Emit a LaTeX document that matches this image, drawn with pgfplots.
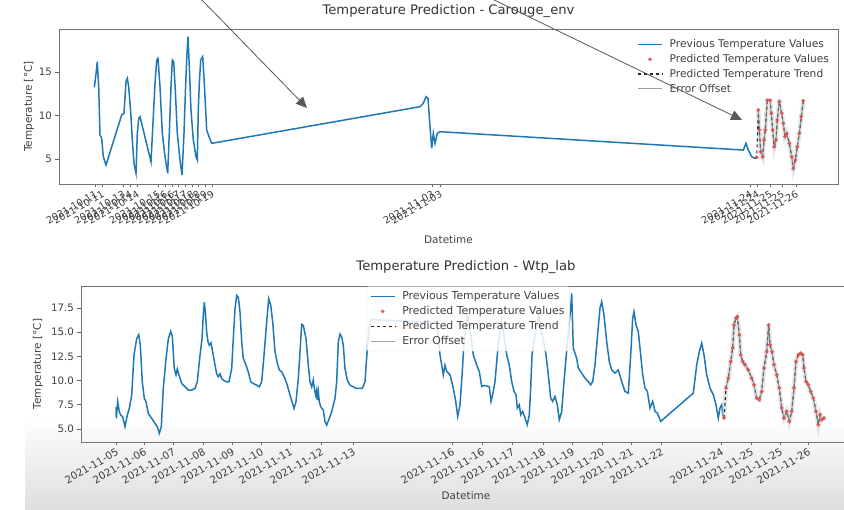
\documentclass[border=0pt]{standalone}
\usepackage{fontspec}
\setmainfont{DejaVu Sans}
\usepackage{pgfplots}
\pgfplotsset{compat=1.18}
\usetikzlibrary{arrows.meta}
\definecolor{mplblue}{HTML}{1F77B4}
\definecolor{mplred}{HTML}{D62728}
\pgfplotsset{
 mystyle/.style={
  scale only axis, anchor=south west,
  axis line style={black!55, line width=0.9bp},
  tick style={black!60, line width=0.8bp},
  tick align=outside, major tick length=3.5bp,
  xtick pos=bottom, ytick pos=left,
  /pgf/number format/assume math mode=true,
  tick label style={font=\fontsize{10.3}{11}\selectfont, text=black!75},
  label style={font=\fontsize{10.5}{12}\selectfont, text=black!75},
  title style={font=\fontsize{13.2}{14}\selectfont, text=black!80, anchor=center},
  xticklabel style={rotate=30, anchor=north east, inner sep=1.5bp},
  legend cell align=left,
  legend style={text=black!75, fill=white, fill opacity=0.85, text opacity=1, draw=black!12, rounded corners=2bp, row sep=1.2bp, inner sep=3bp, /tikz/every odd column/.append style={column sep=5bp}},
 },
 prev/.style={mplblue, line width=1.5bp},
 band/.style={gray!45, line width=4.5bp, opacity=0.45, forget plot},
 predpts/.style={only marks, mark=*, mark size=1.6bp, mark options={draw=mplred!85, fill=mplred!75}},
 trend/.style={black!85, dashed, line width=1.1bp},
 err/.style={gray, line width=1bp, opacity=0.75},
}
\begin{document}
\begin{tikzpicture}
\clip (0,0) rectangle (844bp,510bp);
\fill[white] (0,0) rectangle (844bp,510bp);
\shade[top color=white, bottom color=black!13] (25bp,0) rectangle (844bp,95bp);

% ---------------- top axis ----------------
\begin{axis}[mystyle, at={(59bp,326bp)}, width=779bp, height=155bp,
  xmin=59, xmax=838, ymin=2.13, ymax=19.94, ytick={5,10,15},
  xtick={95,102,123,130,137,158,165,172,178,185,192,198,205,212,432,440,750,757,770,782,796},
  xticklabels={2021-10-11,2021-10-11,2021-10-13,2021-10-14,2021-10-14,2021-10-15,2021-10-16,2021-10-16,2021-10-17,2021-10-17,2021-10-18,2021-10-18,2021-10-19,2021-10-19,2021-11-03,2021-11-03,2021-11-24,2021-11-24,2021-11-25,2021-11-25,2021-11-26},
  xticklabel style={font=\fontsize{9.8}{11}\selectfont},
  title={Temperature Prediction - Carouge\_env},
  title style={at={(axis description cs:0.5,1.077)}},
  xlabel={Datetime}, xlabel style={at={(axis description cs:0.5,-0.361)}, anchor=center},
  ylabel={Temperature [°C]}, ylabel style={at={(axis description cs:-0.0385,0.5)}, anchor=center},
  legend style={at={(0.995,0.965)}, anchor=north east, draw=none, font=\fontsize{10.7}{12.5}\selectfont},
  legend image code/.code={\draw[mark repeat=2,mark phase=2,#1] plot coordinates {(0bp,0bp) (12bp,0bp) (24bp,0bp)};},
]
\addplot[prev] coordinates {(94.3,13.24)(95.7,14.46)(97.3,16.19)(98.7,13.31)(100,7.76)(101.7,7.38)(103.3,5.27)(106,4.31)(121.7,10.06)(124,10.25)(126,13.89)(127.3,14.27)(128.7,13.31)(131,9.86)(132.3,7.18)(134,4.50)(136,3.35)(137.3,7.95)(138.7,9.67)(140,9.86)(151,4.69)(153.3,9.86)(155,13.70)(156.7,16.38)(158,16.57)(160,13.31)(162.3,7.95)(165,5.27)(167.7,3.35)(169.3,7.95)(171,13.31)(172.3,16.38)(173.7,16.19)(175.3,12.93)(177.3,7.95)(180,4.89)(182,3.16)(184,7.95)(185.7,13.70)(187,17.15)(188,19.06)(189.3,15.61)(191,10.63)(193.3,7.18)(196,5.27)(197.3,4.89)(198.3,10.63)(199.3,13.70)(200.7,16.38)(202.7,16.76)(204.3,13.70)(206.7,8.33)(209,7.56)(211.7,6.80)(420,11.01)(423.3,11.40)(426,12.16)(428,11.97)(430,8.71)(431.7,6.23)(433.3,7.95)(435,6.80)(437.3,7.95)(440,8.14)(743.3,6.03)(746,6.80)(748.3,6.03)(751.7,5.27)(755,5.08)};
\addlegendentry{Previous Temperature Values}
\addplot[band] coordinates {(758.3,10.63)(759.3,8.33)(760.7,5.84)(762.7,5.26)(764,7.18)(765.3,8.33)(767.3,11.78)(770,11.78)(771.3,10.25)(772.7,8.33)(774.3,6.41)(776,7.18)(777.3,9.48)(779.3,11.59)(781.7,10.25)(783.3,9.10)(785,7.56)(786.7,7.95)(789.3,6.80)(791.7,5.26)(793.3,3.93)(795.3,4.89)(797.3,6.41)(799.3,7.95)(801.3,9.86)(803.3,11.70)};
\addplot[predpts] coordinates {(756.7,5.20)(758.3,10.63)(759.3,8.33)(760.7,5.84)(762.7,5.26)(764,7.18)(765.3,8.33)(767.3,11.78)(770,11.78)(771.3,10.25)(772.7,8.33)(774.3,6.41)(776,7.18)(777.3,9.48)(779.3,11.59)(781.7,10.25)(783.3,9.10)(785,7.56)(786.7,7.95)(789.3,6.80)(791.7,5.26)(793.3,3.93)(795.3,4.89)(797.3,6.41)(799.3,7.95)(801.3,9.86)(803.3,11.70)};
\addlegendentry{Predicted Temperature Values}
\addplot[trend] coordinates {(755,5.08)(756.7,5.20)(758.3,10.63)(759.3,8.33)(760.7,5.84)(762.7,5.26)(764,7.18)(765.3,8.33)(767.3,11.78)(770,11.78)(771.3,10.25)(772.7,8.33)(774.3,6.41)(776,7.18)(777.3,9.48)(779.3,11.59)(781.7,10.25)(783.3,9.10)(785,7.56)(786.7,7.95)(789.3,6.80)(791.7,5.26)(793.3,3.93)(795.3,4.89)(797.3,6.41)(799.3,7.95)(801.3,9.86)(803.3,11.70)};
\addlegendentry{Predicted Temperature Trend}
\addplot[err] coordinates {(758.3,10.63)(759.3,8.33)(760.7,5.84)(762.7,5.26)(764,7.18)(765.3,8.33)(767.3,11.78)(770,11.78)(771.3,10.25)(772.7,8.33)(774.3,6.41)(776,7.18)(777.3,9.48)(779.3,11.59)(781.7,10.25)(783.3,9.10)(785,7.56)(786.7,7.95)(789.3,6.80)(791.7,5.26)(793.3,3.93)(795.3,4.89)(797.3,6.41)(799.3,7.95)(801.3,9.86)(803.3,11.70)};
\addlegendentry{Error Offset}
\end{axis}

% ---------------- bottom axis ----------------
\begin{axis}[mystyle, at={(81bp,68bp)}, width=770bp, height=156bp,
  xmin=81, xmax=851, ymin=3.66, ymax=19.77, ytick={5,7.5,10,12.5,15,17.5},
  yticklabel style={/pgf/number format/.cd, fixed, fixed zerofill, precision=1},
  xtick={116,144,173,203,232,261,290,321,353,452,482,512,543,572,602,631,661,721,751,780,808},
  xticklabels={2021-11-05,2021-11-06,2021-11-07,2021-11-08,2021-11-09,2021-11-10,2021-11-11,2021-11-12,2021-11-13,2021-11-16,2021-11-16,2021-11-17,2021-11-18,2021-11-19,2021-11-20,2021-11-21,2021-11-22,2021-11-24,2021-11-25,2021-11-25,2021-11-26},
  title={Temperature Prediction - Wtp\_lab},
  title style={at={(axis description cs:0.5,1.083)}},
  xlabel={Datetime}, xlabel style={at={(axis description cs:0.5,-0.346)}, anchor=center},
  ylabel={Temperature [°C]}, ylabel style={at={(axis description cs:-0.0558,0.5)}, anchor=center},
  legend style={at={(0.371,0.998)}, anchor=north west, font=\fontsize{10.9}{12.5}\selectfont},
  legend image code/.code={\draw[mark repeat=2,mark phase=2,#1] plot coordinates {(0bp,0bp) (12bp,0bp) (24bp,0bp)};},
]
\addplot[prev] coordinates {(116.0,7.30)(116.3,6.10)(117.7,7.82)(119.3,6.79)(120.7,6.44)(122.7,6.27)(125.0,5.24)(127.3,6.44)(129.3,7.13)(131.7,8.50)(134.0,12.62)(136.7,14.34)(138.7,14.75)(140.3,13.65)(142.3,9.88)(144.3,8.16)(146.0,7.82)(148.3,6.61)(151.7,6.10)(155.0,5.58)(157.3,5.24)(159.3,4.55)(161.3,5.24)(163.3,9.19)(165.7,11.94)(168.3,14.30)(170.7,15.10)(172.3,14.60)(174.3,11.25)(176.0,10.60)(177.3,11.20)(178.3,10.80)(181.7,9.70)(185.0,9.36)(188.3,9.02)(191.7,9.02)(195.0,9.19)(197.3,9.88)(200.0,12.60)(202.0,14.34)(203.3,16.74)(204.3,18.10)(205.3,17.10)(206.7,15.00)(208.0,14.00)(209.3,13.65)(211.0,13.90)(213.3,12.60)(215.0,11.60)(216.7,10.70)(218.3,10.40)(220.0,10.70)(221.7,10.20)(224.0,10.00)(226.7,9.88)(229.0,9.88)(231.7,11.25)(233.3,14.34)(235.0,17.40)(236.7,18.80)(238.3,18.60)(240.0,17.10)(241.7,14.00)(243.3,12.30)(246.0,11.60)(248.3,10.90)(250.7,9.88)(253.3,9.70)(256.7,9.53)(259.3,9.36)(261.7,9.88)(264.0,12.60)(266.7,16.06)(268.7,18.46)(270.7,17.80)(272.7,16.06)(275.0,13.00)(277.3,11.80)(279.3,11.10)(281.7,10.90)(285.0,10.20)(287.3,9.53)(290.0,8.50)(292.0,7.82)(294.0,7.13)(296.0,7.82)(298.3,10.20)(300.0,13.00)(301.7,15.80)(303.3,15.70)(304.3,15.20)(306.0,14.34)(308.3,11.60)(310.0,9.88)(311.7,9.36)(313.3,10.05)(314.3,9.19)(315.7,8.50)(316.7,9.02)(317.3,7.99)(318.3,8.85)(319.3,7.82)(320.7,7.30)(322.0,7.13)(323.3,6.96)(325.0,5.76)(326.7,5.41)(329.3,6.10)(331.7,6.79)(333.3,7.47)(335.0,8.16)(336.7,9.88)(338.3,14.00)(340.0,14.80)(341.7,14.50)(343.3,13.65)(345.0,11.25)(347.3,10.05)(350.0,9.53)(353.3,9.36)(356.7,9.19)(360.0,9.19)(362.3,9.19)(365.0,9.88)(367.3,13.30)(369.3,15.70)(371.0,16.30)(437.0,16.00)(440.0,12.66)(443.3,10.60)(445.0,11.60)(446.7,10.94)(450.0,10.60)(453.3,9.23)(455.7,7.85)(457.7,6.30)(460.0,7.50)(462.3,10.94)(464.0,14.03)(467.5,16.80)(471.0,14.50)(473.3,12.66)(476.7,11.60)(479.3,10.94)(481.7,9.40)(484.0,9.50)(486.7,9.45)(489.3,9.36)(491.0,7.85)(492.7,8.54)(495.0,9.90)(497.3,12.66)(501.5,16.30)(506.7,12.66)(509.3,11.60)(511.7,9.90)(514.0,8.88)(516.0,8.54)(517.3,7.17)(519.3,7.50)(520.7,6.48)(522.7,6.82)(525.0,6.14)(527.3,5.45)(529.3,6.48)(530.7,9.23)(532.0,12.66)(538.5,16.80)(546.0,12.66)(548.3,10.60)(550.7,8.20)(552.7,7.85)(555.0,8.36)(557.3,7.50)(559.3,5.96)(561.7,6.82)(564.0,9.90)(566.0,12.30)(568.3,15.06)(570.7,17.50)(571.7,19.00)(573.3,13.35)(575.0,12.83)(576.7,12.30)(578.3,11.30)(581.7,10.78)(585.0,10.26)(588.3,9.90)(590.7,9.57)(592.7,9.90)(595.0,11.63)(597.3,14.38)(600.0,17.47)(601.7,18.15)(604.0,16.78)(606.7,14.03)(609.3,11.97)(611.7,11.10)(615.0,10.78)(618.3,11.10)(621.7,9.90)(625.0,8.88)(628.3,8.70)(630.7,12.66)(632.7,16.44)(634.0,17.12)(636.0,15.75)(638.3,15.06)(640.7,12.66)(642.7,10.60)(645.0,9.23)(647.3,8.90)(650.0,7.17)(652.7,7.85)(655.0,6.82)(657.3,6.65)(660.7,5.79)(693.3,8.71)(696.7,11.63)(699.3,12.99)(701.7,13.86)(704.0,12.66)(706.7,10.60)(710.0,9.23)(713.3,8.54)(716.0,7.50)(718.3,6.14)(720.0,7.17)(721.7,7.50)(722.7,6.48)(724.0,6.14)};
\addlegendentry{Previous Temperature Values}
\addplot[band] coordinates {(724.0,6.14)(726.0,9.23)(728.3,10.26)(730.7,11.97)(732.7,13.35)(734.0,15.75)(736.0,16.44)(737.3,16.60)(739.3,14.72)(740.7,12.66)(742.7,11.97)(745.0,11.63)(748.3,11.10)(751.7,10.26)(754.0,9.57)(756.7,8.20)(759.3,8.02)(761.7,8.88)(764.0,11.29)(766.7,12.99)(768.7,15.75)(770.0,13.69)(772.0,12.99)(774.0,11.63)(776.7,10.60)(779.3,9.23)(781.7,7.17)(784.0,6.14)(786.7,6.82)(789.3,5.79)(791.7,6.82)(794.0,9.23)(796.0,11.97)(798.3,12.66)(800.7,12.83)(802.7,12.66)(804.0,11.29)(806.0,9.90)(808.3,9.57)(810.7,8.88)(813.3,8.20)(816.0,6.82)(818.3,5.45)(820.0,6.48)(821.7,5.96)(824.0,6.14)};
\addplot[predpts] coordinates {(724.0,6.14)(726.0,9.23)(728.3,10.26)(730.7,11.97)(732.7,13.35)(734.0,15.75)(736.0,16.44)(737.3,16.60)(739.3,14.72)(740.7,12.66)(742.7,11.97)(745.0,11.63)(748.3,11.10)(751.7,10.26)(754.0,9.57)(756.7,8.20)(759.3,8.02)(761.7,8.88)(764.0,11.29)(766.7,12.99)(768.7,15.75)(770.0,13.69)(772.0,12.99)(774.0,11.63)(776.7,10.60)(779.3,9.23)(781.7,7.17)(784.0,6.14)(786.7,6.82)(789.3,5.79)(791.7,6.82)(794.0,9.23)(796.0,11.97)(798.3,12.66)(800.7,12.83)(802.7,12.66)(804.0,11.29)(806.0,9.90)(808.3,9.57)(810.7,8.88)(813.3,8.20)(816.0,6.82)(818.3,5.45)(820.0,6.48)(821.7,5.96)(824.0,6.14)};
\addlegendentry{Predicted Temperature Values}
\addplot[trend] coordinates {(724.0,6.14)(726.0,9.23)(728.3,10.26)(730.7,11.97)(732.7,13.35)(734.0,15.75)(736.0,16.44)(737.3,16.60)(739.3,14.72)(740.7,12.66)(742.7,11.97)(745.0,11.63)(748.3,11.10)(751.7,10.26)(754.0,9.57)(756.7,8.20)(759.3,8.02)(761.7,8.88)(764.0,11.29)(766.7,12.99)(768.7,15.75)(770.0,13.69)(772.0,12.99)(774.0,11.63)(776.7,10.60)(779.3,9.23)(781.7,7.17)(784.0,6.14)(786.7,6.82)(789.3,5.79)(791.7,6.82)(794.0,9.23)(796.0,11.97)(798.3,12.66)(800.7,12.83)(802.7,12.66)(804.0,11.29)(806.0,9.90)(808.3,9.57)(810.7,8.88)(813.3,8.20)(816.0,6.82)(818.3,5.45)(820.0,6.48)(821.7,5.96)(824.0,6.14)};
\addlegendentry{Predicted Temperature Trend}
\addplot[err] coordinates {(726.0,9.23)(728.3,10.26)(730.7,11.97)(732.7,13.35)(734.0,15.75)(736.0,16.44)(737.3,16.60)(739.3,14.72)(740.7,12.66)(742.7,11.97)(745.0,11.63)(748.3,11.10)(751.7,10.26)(754.0,9.57)(756.7,8.20)(759.3,8.02)(761.7,8.88)(764.0,11.29)(766.7,12.99)(768.7,15.75)(770.0,13.69)(772.0,12.99)(774.0,11.63)(776.7,10.60)(779.3,9.23)(781.7,7.17)(784.0,6.14)(786.7,6.82)(789.3,5.79)(791.7,6.82)(794.0,9.23)(796.0,11.97)(798.3,12.66)(800.7,12.83)(802.7,12.66)(804.0,11.29)(806.0,9.90)(808.3,9.57)(810.7,8.88)(813.3,8.20)(816.0,6.82)(818.3,5.45)(820.0,6.48)(821.7,5.96)(824.0,6.14)};
\addlegendentry{Error Offset}
\end{axis}

% presenter's annotation arrows
\draw[black!65, line width=0.8bp, -{Triangle[length=11bp,width=10bp]}] (200bp,512bp) -- (307bp,402bp);
\draw[black!65, line width=0.8bp, -{Triangle[length=11bp,width=10bp]}] (490bp,512bp) -- (742bp,390bp);
\end{tikzpicture}
\end{document}
